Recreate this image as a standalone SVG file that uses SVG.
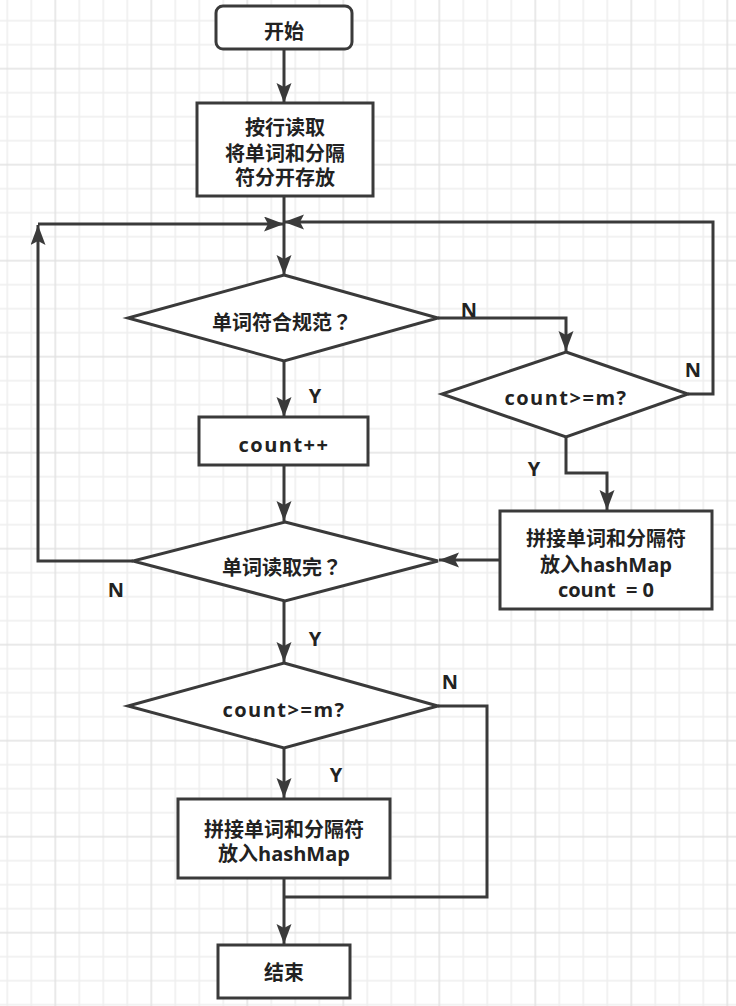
<svg xmlns="http://www.w3.org/2000/svg" width="736" height="1006" viewBox="0 0 736 1006">
<style>
.bg{fill:#ffffff}
.node{fill:#ffffff;stroke:#3a3a3a;stroke-width:3}
.edge{fill:none;stroke:#3a3a3a;stroke-width:3}
.t{font-family:"Open Sans","Noto Sans CJK SC",sans-serif;font-weight:bold;font-size:20px;fill:#222222;text-anchor:middle;dominant-baseline:central}
.tc{font-family:"Noto Sans CJK SC",sans-serif;font-weight:bold;font-size:20px;fill:#222222;text-anchor:middle;dominant-baseline:central}
.q{font-family:"Noto Sans CJK TC","Noto Sans CJK SC",sans-serif}
.lbl{font-family:"Open Sans","Noto Sans CJK SC",sans-serif;font-weight:bold;font-size:20px;fill:#222222;text-anchor:middle;dominant-baseline:central}
</style>
<defs>
<pattern id="grid" patternUnits="userSpaceOnUse" x="43.3" y="56.7" width="96" height="96">
<path d="M36,0V96M60,0V96M84,0V96M0,36H96M0,60H96M0,84H96" stroke="#eeeeee" stroke-width="1.5" fill="none"/>
<path d="M12,0V96M0,12H96" stroke="#e2e2e2" stroke-width="1.5" fill="none"/>
</pattern>
<marker id="arr" markerUnits="userSpaceOnUse" markerWidth="22" markerHeight="16" refX="20" refY="7.5" orient="auto">
<path d="M0,0 L20,7.5 L0,15 L4,7.5 z" fill="#3a3a3a"/>
</marker>
</defs>
<rect class="bg" x="0" y="0" width="736" height="1006"/>
<rect x="0" y="0" width="736" height="1006" fill="url(#grid)"/>

<g id="connectors">
<path class="edge" d="M284,49V103" marker-end="url(#arr)"/>
<path class="edge" d="M284,196V275" marker-end="url(#arr)"/>
<path class="edge" d="M133,561H38V225" marker-end="url(#arr)"/>
<path class="edge" d="M38,224H284" marker-end="url(#arr)"/>
<path class="edge" d="M688,394H713V222H284" marker-end="url(#arr)"/>
<path class="edge" d="M438,318H566V351" marker-end="url(#arr)"/>
<path class="edge" d="M284,361V417" marker-end="url(#arr)"/>
<path class="edge" d="M566,437V473H607V510" marker-end="url(#arr)"/>
<path class="edge" d="M284,465V521" marker-end="url(#arr)"/>
<path class="edge" d="M500,560H439" marker-end="url(#arr)"/>
<path class="edge" d="M284,601V662" marker-end="url(#arr)"/>
<path class="edge" d="M284,748V798" marker-end="url(#arr)"/>
<path class="edge" d="M438,706H487V897H284"/>
<path class="edge" d="M284,878V944" marker-end="url(#arr)"/>
<text class="lbl" x="469" y="309">N</text>
<text class="lbl" x="693" y="369">N</text>
<text class="lbl" x="315" y="395">Y</text>
<text class="lbl" x="534" y="468">Y</text>
<text class="lbl" x="116" y="589">N</text>
<text class="lbl" x="315" y="638">Y</text>
<text class="lbl" x="450" y="681">N</text>
<text class="lbl" x="336" y="774">Y</text>
</g>

<g id="start">
<rect class="node" x="216" y="6" width="136" height="43" rx="7"/>
<text class="t" x="284" y="31">开始</text>
</g>
<g id="read">
<rect class="node" x="197" y="103" width="176" height="93"/>
<text class="t" x="285" y="127">按行读取</text>
<text class="t" x="285" y="153">将单词和分隔</text>
<text class="t" x="285" y="177">符分开存放</text>
</g>
<g id="valid">
<polygon class="node" points="284,275 438,318 284,361 128,318"/>
<text class="tc" x="282" y="321">单词符合规范<tspan class="q">？</tspan></text>
</g>
<g id="count2">
<polygon class="node" points="566,352 688,394 566,437 442,394"/>
<text class="t" x="566" y="397" letter-spacing="1.5">count&gt;=m?</text>
</g>
<g id="inc">
<rect class="node" x="199" y="417" width="169" height="48"/>
<text class="t" x="284" y="444" letter-spacing="1.5">count++</text>
</g>
<g id="done">
<polygon class="node" points="285,522 438,561 285,601 133,561"/>
<text class="tc" x="282" y="566">单词读取完<tspan class="q">？</tspan></text>
</g>
<g id="put1">
<rect class="node" x="500" y="511" width="212" height="98"/>
<text class="t" x="606" y="538">拼接单词和分隔符</text>
<text class="t" x="606" y="564">放入hashMap</text>
<text class="t" x="606" y="589" xml:space="preserve">count  = 0</text>
</g>
<g id="count4">
<polygon class="node" points="284,663 438,706 284,748 128,706"/>
<text class="t" x="284" y="709" letter-spacing="1.5">count&gt;=m?</text>
</g>
<g id="put2">
<rect class="node" x="178" y="799" width="212" height="79"/>
<text class="t" x="284" y="829">拼接单词和分隔符</text>
<text class="t" x="284" y="853">放入hashMap</text>
</g>
<g id="end">
<rect class="node" x="218" y="945" width="132" height="53"/>
<text class="t" x="284" y="972">结束</text>
</g>
</svg>
